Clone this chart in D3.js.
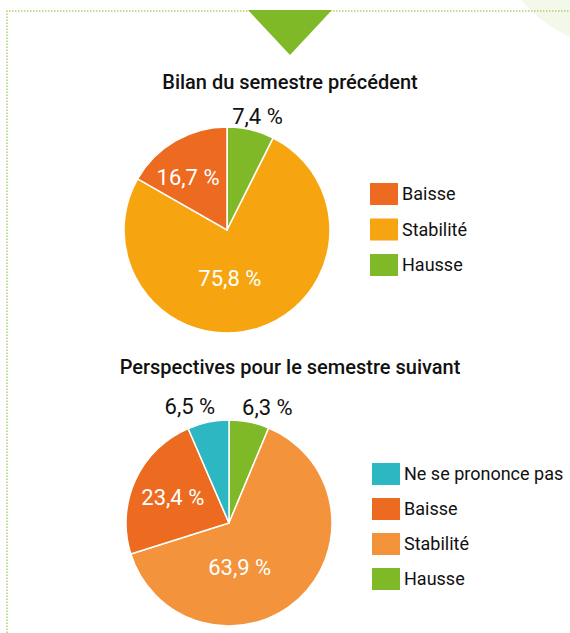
<!DOCTYPE html>
<html>
<head>
<meta charset="utf-8">
<script src="https://cdn.jsdelivr.net/npm/d3@7"></script>
<style>
  body { margin: 0; background: #fff; }
  svg { display: block; font-family: Roboto, "Noto Sans", sans-serif; }
</style>
</head>
<body>
<div id="chart"></div>
<script>
// data
var topCategories = ["Hausse", "Stabilité", "Baisse"];
var topValues = [7.4, 75.8, 16.7];
var topLegend = ["Baisse", "Stabilité", "Hausse"];

var bottomCategories = ["Hausse", "Stabilité", "Baisse", "Ne se prononce pas"];
var bottomValues = [6.3, 63.9, 23.4, 6.5];
var bottomLegend = ["Ne se prononce pas", "Baisse", "Stabilité", "Hausse"];

var titles = ["Bilan du semestre précédent", "Perspectives pour le semestre suivant"];

// colours
var topColors = { "Baisse": "#ec6b21", "Stabilité": "#f6a511", "Hausse": "#80b927" };
var bottomColors = { "Ne se prononce pas": "#2db7c2", "Baisse": "#ec6b21", "Stabilité": "#f3933b", "Hausse": "#80b927" };

var width = 570, height = 633;

var svg = d3.select("#chart").append("svg")
    .attr("width", width)
    .attr("height", height);

// background decoration
svg.append("circle")
    .attr("cx", 620).attr("cy", -80).attr("r", 127)
    .style("fill", "#f3f8ea");

svg.append("path")
    .attr("d", "M7,633V11H570")
    .style("fill", "none")
    .style("stroke", "#a9d474")
    .style("stroke-width", 1.5)
    .style("stroke-dasharray", "1.5,1.5");

svg.append("path")
    .attr("d", "M248,10H332L290,55Z")
    .style("fill", "#80b927");

// titles
svg.selectAll(".title")
    .data(titles)
    .enter()
    .append("text")
    .attr("class", "title")
    .attr("x", 290)
    .attr("y", function(d, i) { return i === 0 ? 89 : 374; })
    .attr("text-anchor", "middle")
    .style("font-size", "20px")
    .style("font-weight", 500)
    .style("fill", "#111")
    .text(function(d) { return d; });

var fmt = function(v) { return d3.format(".1f")(v).replace(".", ",") + " %"; };

function drawPie(cfg) {
    var data = cfg.categories.map(function(c, i) { return { cat: c, value: cfg.values[i] }; });

    var pie = d3.pie().sort(null).value(function(d) { return d.value; });
    var arc = d3.arc().innerRadius(0).outerRadius(cfg.r);
    var inLabel = d3.arc().innerRadius(cfg.r * 0.6).outerRadius(cfg.r * 0.6);
    var outLabel = d3.arc().innerRadius(cfg.r + 16).outerRadius(cfg.r + 16);

    var g = svg.append("g")
        .attr("transform", "translate(" + cfg.cx + "," + cfg.cy + ")");

    var arcs = pie(data);

    g.selectAll(".slice")
        .data(arcs)
        .enter()
        .append("path")
        .attr("class", "slice")
        .attr("d", arc)
        .style("fill", function(d) { return cfg.colors[d.data.cat]; })
        .style("stroke", "#fff")
        .style("stroke-width", 1.5);

    g.selectAll(".lbl")
        .data(arcs)
        .enter()
        .append("text")
        .attr("class", "lbl")
        .attr("transform", function(d) {
            var outside = d.data.value < 10;
            var p = (outside ? outLabel : inLabel).centroid(d);
            var n = cfg.nudge[d.data.cat] || [0, 0];
            return "translate(" + (p[0] + n[0]) + "," + (p[1] + n[1]) + ")";
        })
        .attr("dy", "0.35em")
        .attr("text-anchor", "middle")
        .style("font-size", "22px")
        .style("fill", function(d) { return d.data.value < 10 ? "#111" : "#fff"; })
        .text(function(d) { return fmt(d.data.value); });

    // legend
    var lg = svg.append("g")
        .attr("transform", "translate(" + cfg.lx + "," + cfg.ly + ")");

    var rows = lg.selectAll(".row")
        .data(cfg.legend)
        .enter()
        .append("g")
        .attr("class", "row")
        .attr("transform", function(d, i) { return "translate(0," + (i * cfg.step) + ")"; });

    rows.append("rect")
        .attr("width", 28)
        .attr("height", 22)
        .style("fill", function(d) { return cfg.colors[d]; });

    rows.append("text")
        .attr("x", 32)
        .attr("y", 11)
        .attr("dy", "0.35em")
        .style("font-size", "18px")
        .style("fill", "#111")
        .text(function(d) { return d; });
}

drawPie({
    categories: topCategories, values: topValues, colors: topColors, legend: topLegend,
    cx: 227, cy: 230, r: 103, lx: 370, ly: 183, step: 35.5,
    nudge: { "Hausse": [3, 2], "Stabilité": [-15, -11], "Baisse": [-8, 1] }
});

drawPie({
    categories: bottomCategories, values: bottomValues, colors: bottomColors, legend: bottomLegend,
    cx: 229, cy: 523, r: 103, lx: 372, ly: 463, step: 35,
    nudge: { "Hausse": [15, 1], "Stabilité": [-31, -1], "Baisse": [0, 0], "Ne se prononce pas": [-15, 0] }
});
</script>
</body>
</html>
